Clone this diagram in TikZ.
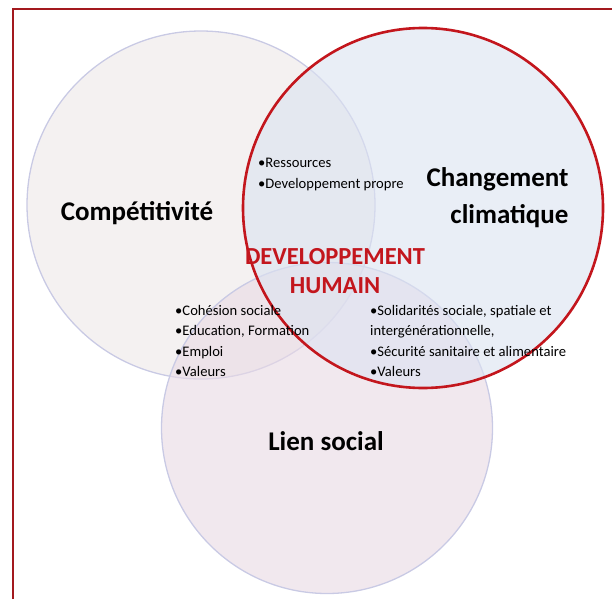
\documentclass[tikz,border=0pt]{standalone}
\usepackage{fontspec}
\setmainfont{Carlito}
\definecolor{cadre}{HTML}{A3191E}
\definecolor{rouge}{HTML}{C3161D}
\definecolor{lavande}{HTML}{C9CAE4}
\definecolor{gris}{HTML}{EEE9E9}
\definecolor{bleu}{HTML}{DCE3F1}
\definecolor{rose}{HTML}{E9DAE4}

\begin{document}
\begin{tikzpicture}[x=1pt,y=-1pt,
	zone/.style={draw=lavande, circle, line width=1.3pt, inner sep=0pt, fill opacity=0.62},
	titre/.style={font=\fontsize{27}{37}\selectfont\bfseries},
	liste/.style={font=\fontsize{14.6}{20.5}\selectfont, align=left, anchor=north west, inner sep=0pt}]
	\useasboundingbox (0,0) rectangle (612,599);
	\draw [cadre, line width=2pt] (13,599) -- (13,9) -- (612,9);
	% les trois cercles
	\node [zone, fill=gris, minimum size=348pt] (compet) at (201,205) {};
	\node [zone, fill=rose, minimum size=331pt] (lien) at (327,428) {};
	\node [zone, fill=bleu, draw=rouge, line width=2.6pt, minimum size=360pt] (climat) at (423,208) {};
	% titres
	\node [titre] (tcompet) at (137,213) {Compétitivité};
	\node [titre, align=right, anchor=north east] (tclimat) at (572,164.5) {Changement\\climatique};
	\node [titre] (tlien) at (326,441) {Lien social};
	\node [titre, rouge, align=center, font=\fontsize{24.5}{29}\selectfont\bfseries] (dev) at (335,271) {DEVELOPPEMENT\\HUMAIN};
	% listes
	\node [liste] (haut) at (258,158) {•Ressources\\•Developpement propre};
	\node [liste] (gauche) at (175,305) {•Cohésion sociale\\•Education, Formation\\•Emploi\\•Valeurs};
	\node [liste] (droite) at (370,305) {•Solidarités sociale, spatiale et\\intergénérationnelle,\\•Sécurité sanitaire et alimentaire\\•Valeurs};
\end{tikzpicture}
\end{document}
